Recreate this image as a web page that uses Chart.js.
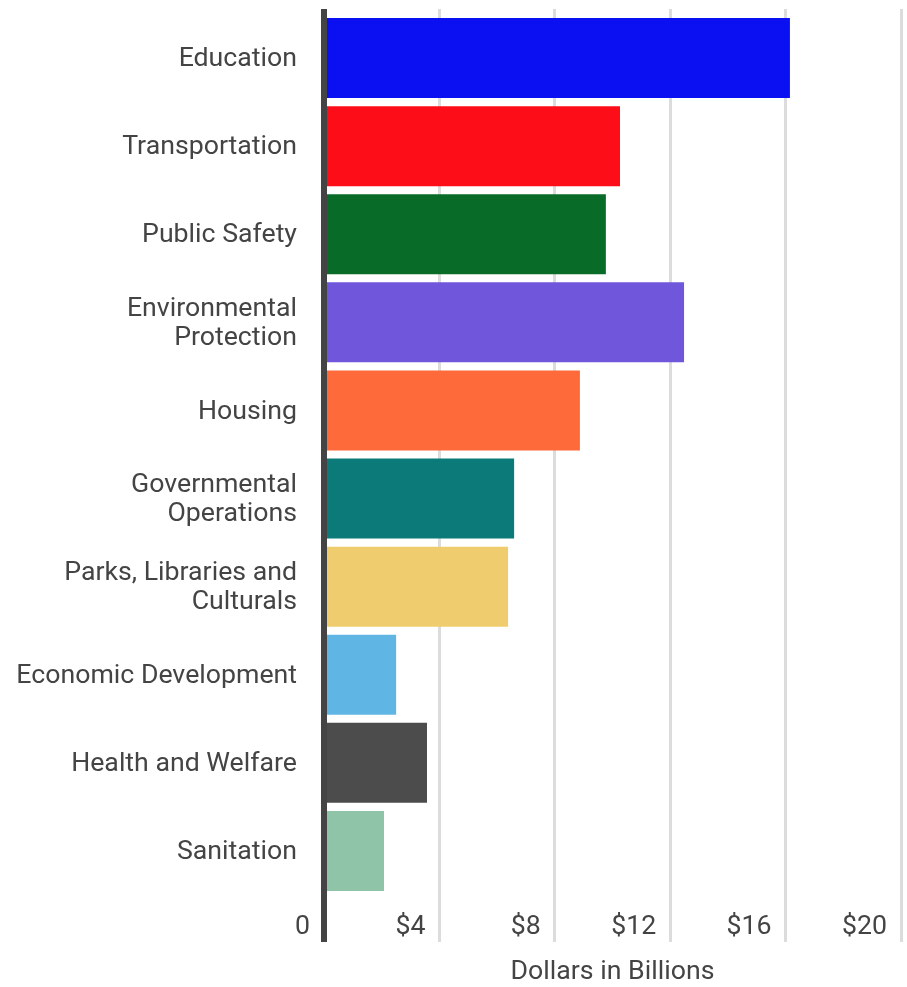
<!DOCTYPE html>
<html>
<head>
<meta charset="utf-8">
<title>Spending by Category</title>
<script src="https://cdn.jsdelivr.net/npm/chart.js@4"></script>
<style>
    html, body { margin: 0; padding: 0; background: #fff; }
    #wrap { width: 907px; height: 987px; }
</style>
</head>
<body>
<div id="wrap"><canvas id="spendChart"></canvas></div>
<script>
// categories, top to bottom
const categories = [
    'Education',
    'Transportation',
    'Public Safety',
    ['Environmental', 'Protection'],
    'Housing',
    ['Governmental', 'Operations'],
    ['Parks, Libraries and', 'Culturals'],
    'Economic Development',
    'Health and Welfare',
    'Sanitation'
];

// spending, billions of dollars
const spending = [16.15, 10.26, 9.77, 12.48, 8.87, 6.59, 6.38, 2.5, 3.57, 2.08];

const barColors = [
    '#0b10f3', '#fc0d17', '#096b28', '#6f56da', '#fe6a3a',
    '#0b7a79', '#efcc6d', '#5fb6e5', '#4c4c4c', '#8fc4a8'
];

// x axis ticks
const tickValues = [0, 4, 8, 12, 16, 20];
const tickLabels = ['0', '$4', '$8', '$12', '$16', '$20'];

const textColor = '#444';
const gridColor = '#dcdcdc';
const font = { family: 'Roboto', size: 26.7, lineHeight: 1.075 };

// zero line is dark and thick, the rest light
const lineColor = ctx => (ctx.tick && ctx.tick.value === 0) ? textColor : gridColor;
const lineWidth = ctx => (ctx.tick && ctx.tick.value === 0) ? 6 : 3;

function fixedTicks(axis) {
    axis.ticks = tickValues.map(v => ({ value: v }));
}

new Chart(document.getElementById('spendChart'), {
    type: 'bar',
    data: {
        labels: categories,
        datasets: [{
            data: spending,
            backgroundColor: barColors,
            borderWidth: 0,
            barPercentage: 0.908,
            categoryPercentage: 1
        }]
    },
    options: {
        indexAxis: 'y',
        responsive: true,
        maintainAspectRatio: false,
        animation: false,
        layout: {
            padding: { top: 9, right: 6, bottom: 0, left: 0 }
        },
        plugins: {
            legend: { display: false },
            tooltip: { enabled: false }
        },
        scales: {
            x: {
                position: 'bottom',
                min: 0,
                max: 20,
                afterBuildTicks: fixedTicks,
                grid: {
                    color: lineColor,
                    lineWidth: lineWidth,
                    tickLength: 47
                },
                border: { display: false },
                ticks: {
                    color: textColor,
                    font: font,
                    align: 'end',
                    labelOffset: -14,
                    padding: -29,
                    callback: (v, i) => tickLabels[i]
                },
                title: {
                    display: true,
                    text: 'Dollars in Billions',
                    color: textColor,
                    font: font,
                    padding: { top: 13, bottom: 0 }
                },
                afterFit: axis => { axis.height = 92; }
            },
            xTop: {
                axis: 'x',
                position: 'top',
                min: 0,
                max: 20,
                afterBuildTicks: fixedTicks,
                grid: {
                    color: lineColor,
                    lineWidth: lineWidth,
                    drawOnChartArea: false,
                    tickLength: 5
                },
                border: { display: false },
                ticks: { display: false },
                afterFit: axis => { axis.height = 5; }
            },
            y: {
                z: 1,
                grid: { display: false, drawTicks: false },
                border: { display: true, color: textColor, width: 6 },
                ticks: {
                    color: textColor,
                    font: font,
                    padding: 27,
                    labelOffset: 1.5
                },
                afterFit: axis => {
                    axis.width = 324;
                    axis.paddingTop = 0;
                    axis.paddingBottom = 0;
                }
            }
        }
    }
});
</script>
</body>
</html>
